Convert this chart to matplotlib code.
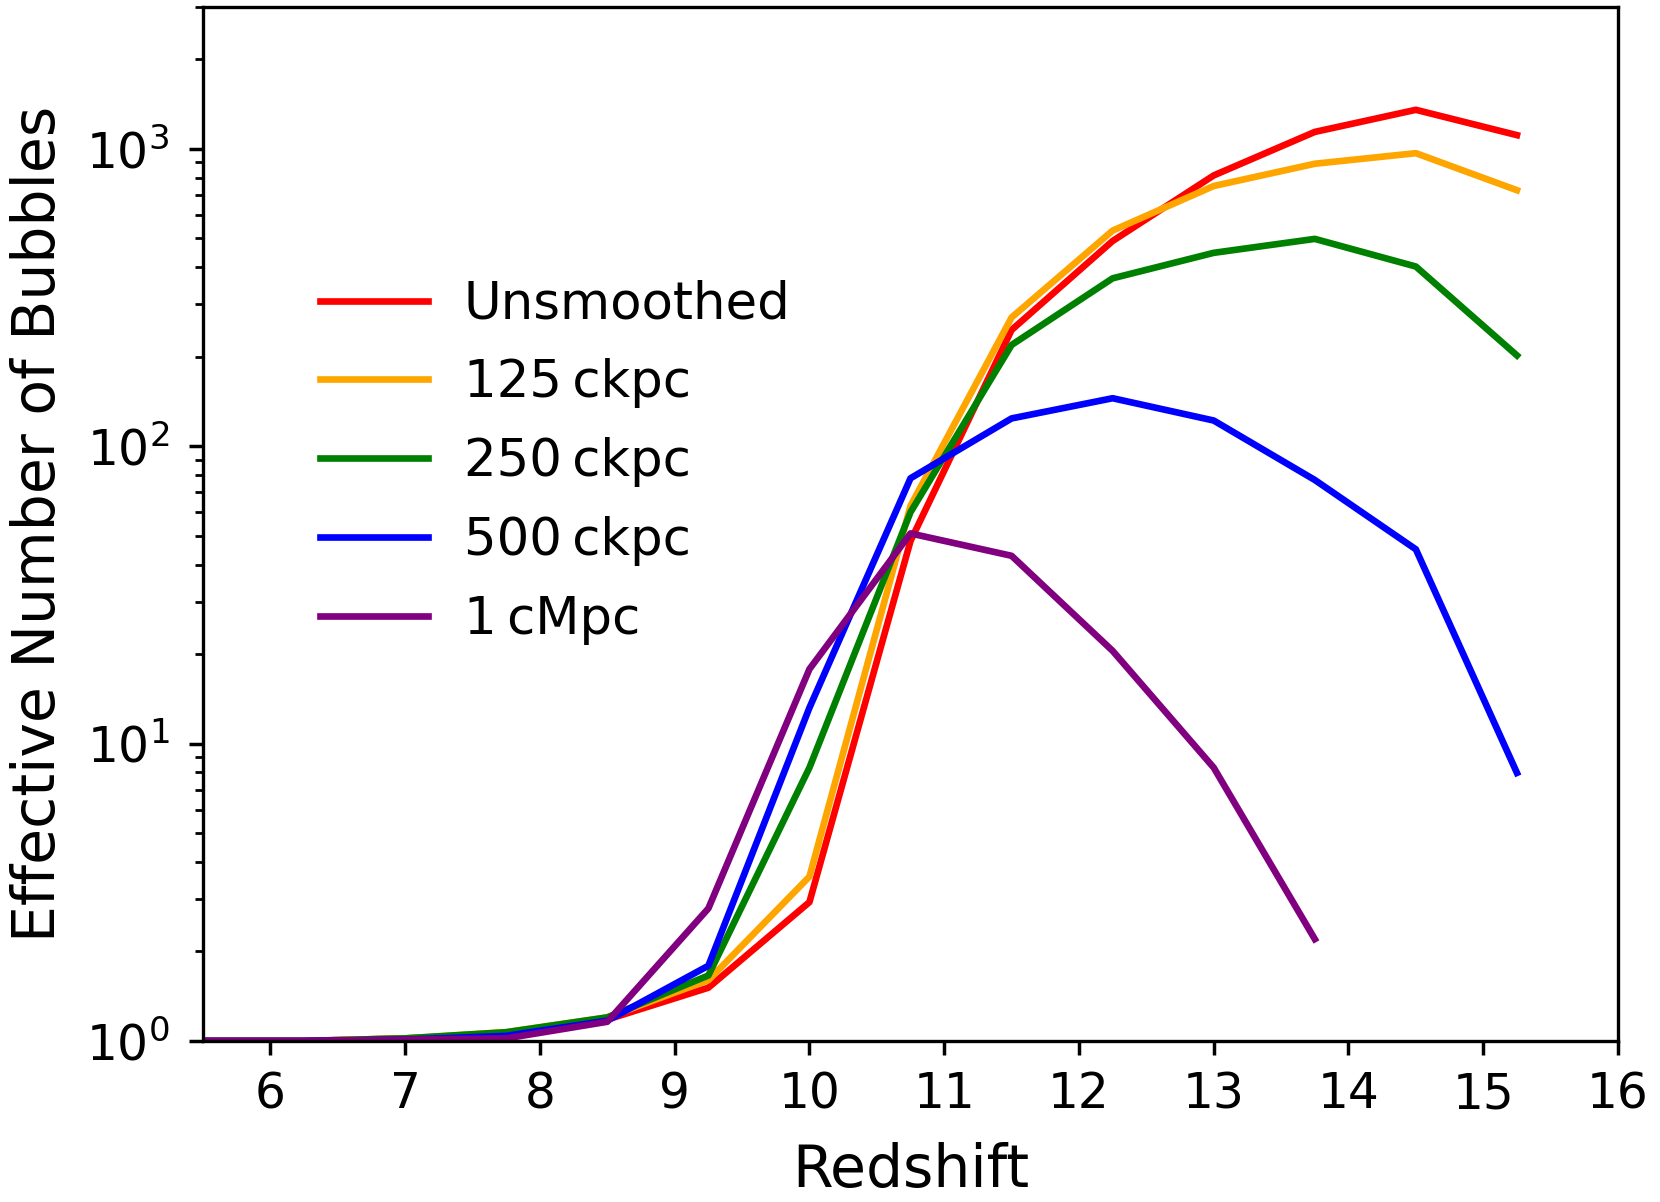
import matplotlib
matplotlib.use("Agg")
import matplotlib.pyplot as plt

# redshift snapshots
redshift = [5.5, 6.25, 7.0, 7.75, 8.5, 9.25, 10.0, 10.75, 11.5, 12.25, 13.0, 13.75, 14.5, 15.25]

# effective number of bubbles for each smoothing scale
n_unsmoothed = [1.0, 1.0, 1.02, 1.05, 1.18, 1.51, 2.93, 48, 246, 490, 814, 1140, 1353, 1112]
n_125ckpc = [1.0, 1.0, 1.02, 1.07, 1.2, 1.60, 3.57, 63, 271, 531, 750, 891, 967, 726]
n_250ckpc = [1.0, 1.0, 1.02, 1.07, 1.2, 1.66, 8.3, 60, 219, 367, 447, 498, 402, 202]
n_500ckpc = [1.0, 1.0, 1.01, 1.04, 1.17, 1.79, 13.2, 78, 124, 145, 122, 77, 45, 7.97]
# 1 cMpc stops at z = 13.75
redshift_1cmpc = redshift[:12]
n_1cmpc = [1.0, 1.0, 1.01, 1.02, 1.16, 2.79, 17.8, 50.9, 42.8, 20.5, 8.3, 2.2]

labels = ["Unsmoothed", "125\u2009ckpc", "250\u2009ckpc", "500\u2009ckpc", "1\u2009cMpc"]
colors = ["red", "orange", "green", "blue", "purple"]

fig = plt.figure(figsize=(16.6, 12.02), dpi=100)
ax = fig.add_axes([0.1223, 0.134, 0.9747 - 0.1223, 0.9942 - 0.134])

series = [(redshift, n_unsmoothed), (redshift, n_125ckpc), (redshift, n_250ckpc),
          (redshift, n_500ckpc), (redshift_1cmpc, n_1cmpc)]
for (x, y), lab, col in zip(series, labels, colors):
    ax.plot(x, y, color=col, lw=4.8, label=lab)

ax.set_yscale("log")
ax.set_xlim(5.5, 16)
ax.set_ylim(1, 3000)
ax.set_xticks(range(6, 17))

ax.set_xlabel("Redshift", fontsize=42, labelpad=17)
ax.set_ylabel("Effective Number of Bubbles", fontsize=42, labelpad=14)

ax.tick_params(axis="both", which="major", labelsize=35, length=10, width=2.5, direction="out")
ax.tick_params(axis="x", which="major", pad=11)
ax.tick_params(axis="y", which="major", pad=14)
ax.tick_params(axis="y", which="minor", length=6, width=2, direction="out")
for s in ax.spines.values():
    s.set_linewidth(2.4)

ax.legend(loc="upper left", bbox_to_anchor=(0.05, 0.781), frameon=False,
          fontsize=37, handlelength=2.1, handletextpad=0.7, labelspacing=0.56)

fig.savefig("out.png", dpi=100)
